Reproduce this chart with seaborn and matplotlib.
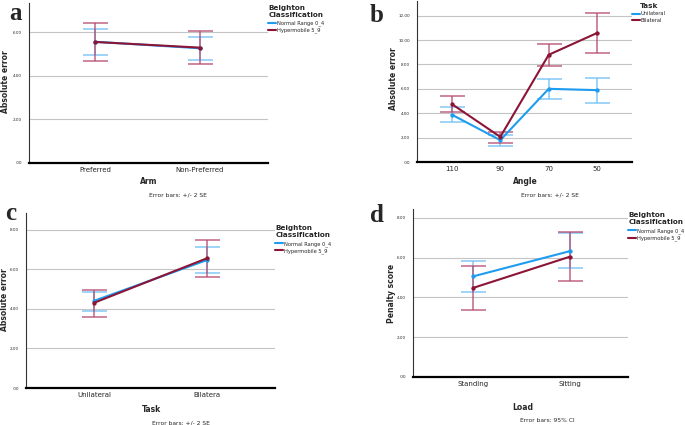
import matplotlib
matplotlib.use("Agg")
import matplotlib.pyplot as plt
from matplotlib.lines import Line2D
from matplotlib.ticker import FuncFormatter
import numpy as np
import pandas as pd
import seaborn as sns

# ---- data ----
group_labels = ["Normal Range 0_4", "Hypermobile 5_9"]
task_labels = ["Unilateral", "Bilateral"]

# a: Arm x Beighton
arm_cats = ["Preferred", "Non-Preferred"]
a_normal_mean = [5.57, 5.27]
a_normal_lo = [4.97, 4.74]
a_normal_hi = [6.17, 5.80]
a_hyper_mean = [5.56, 5.30]
a_hyper_lo = [4.68, 4.56]
a_hyper_hi = [6.43, 6.08]

# b: Angle x Task
angle_cats = ["110", "90", "70", "50"]
b_uni_mean = [3.88, 1.79, 6.00, 5.89]
b_uni_lo = [3.26, 1.33, 5.16, 4.86]
b_uni_hi = [4.50, 2.20, 6.78, 6.89]
b_bil_mean = [4.75, 2.06, 8.79, 10.58]
b_bil_lo = [4.12, 1.57, 7.87, 8.96]
b_bil_hi = [5.40, 2.47, 9.66, 12.18]

# c: Task x Beighton
task_cats = ["Unilateral", "Bilatera"]
c_normal_mean = [4.41, 6.48]
c_normal_lo = [3.89, 5.81]
c_normal_hi = [4.87, 7.14]
c_hyper_mean = [4.31, 6.57]
c_hyper_lo = [3.59, 5.61]
c_hyper_hi = [4.98, 7.49]

# d: Load x Beighton
load_cats = ["Standing", "Sitting"]
d_normal_mean = [5.06, 6.33]
d_normal_lo = [4.29, 5.46]
d_normal_hi = [5.85, 7.22]
d_hyper_mean = [4.48, 6.05]
d_hyper_lo = [3.39, 4.85]
d_hyper_hi = [5.60, 7.30]

BLUE = "#1e9cf0"
RED = "#8c1536"
BLUE_EB = "#6fc0f5"
RED_EB = "#b44a70"

W, H = 685, 425

sns.set_theme(style="white")
plt.rcParams["font.family"] = ["DejaVu Sans"]

fig = plt.figure(figsize=(W / 100, H / 100), dpi=100)
fig.patch.set_facecolor("white")


def rect(l, t, r, b):
    return [l / W, 1 - b / H, (r - l) / W, (b - t) / H]


def ftext(x, y, s, **kw):
    fig.text(x / W, 1 - y / H, s, ha="center", va="center", **kw)


def panel(box, cats, series, labels, ylim, yticks, xlim, legend_title, legend_y):
    ax = fig.add_axes(rect(*box))
    rows = []
    for lab, (mean, lo, hi) in zip(labels, series):
        for c, m in zip(cats, mean):
            rows.append({"cat": c, "mean": m, "group": lab})
    df = pd.DataFrame(rows)
    pos = np.arange(len(cats))
    for (mean, lo, hi), col in zip(series, [BLUE_EB, RED_EB]):
        mean = np.array(mean)
        ax.errorbar(pos, mean, yerr=[mean - np.array(lo), np.array(hi) - mean],
                    fmt="none", ecolor=col, elinewidth=1.1, capsize=9,
                    capthick=1.1, alpha=0.85, zorder=2)
    sns.pointplot(data=df, x="cat", y="mean", hue="group", order=cats,
                  hue_order=labels, palette=[BLUE, RED], errorbar=None,
                  markers="o", markersize=2, linewidth=1.5, ax=ax, zorder=3)
    if ax.get_legend() is not None:
        ax.get_legend().remove()
    ax.set_xlim(*xlim)
    ax.set_ylim(*ylim)
    ax.set_yticks(yticks)
    ax.yaxis.set_major_formatter(FuncFormatter(lambda v, p: f"{v:.2f}".lstrip("0")))
    ax.yaxis.grid(True, color="#c4c4c4", lw=0.8)
    ax.xaxis.grid(False)
    ax.set_axisbelow(True)
    for s in ["top", "right"]:
        ax.spines[s].set_visible(False)
    ax.spines["left"].set_color("#333333")
    ax.spines["left"].set_linewidth(0.8)
    ax.spines["bottom"].set_color("black")
    ax.spines["bottom"].set_linewidth(1.6)
    ax.tick_params(axis="y", length=0, labelsize=3.0, pad=5)
    ax.tick_params(axis="x", length=0, labelsize=5, pad=3)
    ax.set_xlabel("")
    ax.set_ylabel("")
    handles = [Line2D([], [], color=BLUE, lw=1.5), Line2D([], [], color=RED, lw=1.5)]
    leg = ax.legend(handles, labels, title=legend_title, loc="upper left",
                    bbox_to_anchor=(1.0, legend_y), frameon=False, borderaxespad=0,
                    borderpad=0, fontsize=3.7, handlelength=1.5, handletextpad=0.2,
                    labelspacing=0.3)
    leg.get_title().set_fontsize(5.2)
    leg.get_title().set_fontweight("bold")
    leg._legend_box.sep = 2
    return ax


panel((29, 3, 268, 163), arm_cats,
      [(a_normal_mean, a_normal_lo, a_normal_hi), (a_hyper_mean, a_hyper_lo, a_hyper_hi)],
      group_labels, (0, 7.35), [0, 2, 4, 6], (-0.63, 1.65),
      "Beighton\nClassification", 0.99)
panel((417, 1, 632, 162), angle_cats,
      [(b_uni_mean, b_uni_lo, b_uni_hi), (b_bil_mean, b_bil_lo, b_bil_hi)],
      task_labels, (0, 13.2), [0, 2, 4, 6, 8, 10, 12], (-0.72, 3.72),
      "Task", 0.99)
panel((26, 213, 275, 388), task_cats,
      [(c_normal_mean, c_normal_lo, c_normal_hi), (c_hyper_mean, c_hyper_lo, c_hyper_hi)],
      group_labels, (0, 8.86), [0, 2, 4, 6, 8], (-0.6, 1.6),
      "Beighton\nClassification", 0.93)
panel((413, 209, 628, 377), load_cats,
      [(d_normal_mean, d_normal_lo, d_normal_hi), (d_hyper_mean, d_hyper_lo, d_hyper_hi)],
      group_labels, (0, 8.45), [0, 2, 4, 6, 8], (-0.62, 1.6),
      "Beighton\nClassification", 0.98)

lab_kw = dict(fontsize=5.5, fontweight="bold")
note_kw = dict(fontsize=4.3)
# y labels
ftext(6, 82, "Absolute error", rotation=90, **lab_kw)
ftext(393, 79, "Absolute error", rotation=90, **lab_kw)
ftext(5, 300, "Absolute error", rotation=90, **lab_kw)
ftext(392, 293, "Penalty score", rotation=90, **lab_kw)
# x labels
ftext(149, 182, "Arm", **lab_kw)
ftext(525, 182, "Angle", **lab_kw)
ftext(151, 409, "Task", **lab_kw)
ftext(523, 407, "Load", **lab_kw)
# error bar notes
ftext(178, 195, "Error bars: +/- 2 SE", **note_kw)
ftext(550, 195, "Error bars: +/- 2 SE", **note_kw)
ftext(181, 423, "Error bars: +/- 2 SE", **note_kw)
ftext(547, 421, "Error bars: 95% CI", **note_kw)
# panel letters
let_kw = dict(fontsize=18, fontweight="bold", family="Liberation Serif")
ftext(15, 14, "a", **let_kw)
ftext(377, 15, "b", **let_kw)
ftext(11, 213, "c", **let_kw)
ftext(377, 216, "d", **let_kw)

fig.savefig("out.png", dpi=100, facecolor="white")
